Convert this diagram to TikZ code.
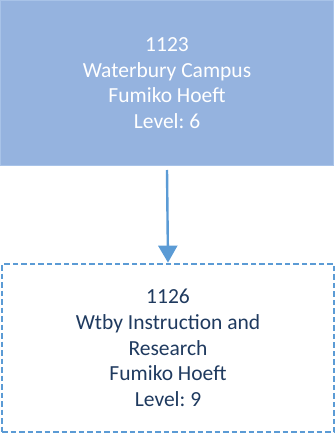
\documentclass[tikz,border=0pt]{standalone}
\usepackage{fontspec}
\setmainfont{Carlito}
\usepackage{tikz}
\usetikzlibrary{arrows.meta,positioning}

\definecolor{unitfill}{HTML}{95B3DF}
\definecolor{unitline}{HTML}{A8C3E8}
\definecolor{linkblue}{HTML}{5B9BD5}
\definecolor{subtext}{HTML}{1F3A5F}

\frenchspacing
\begin{document}
\begin{tikzpicture}[
    unit/.style={
        draw=unitline, line width=1pt, align=center,
        minimum width=333pt, minimum height=165pt,
        fill=unitfill, text=white,
        font=\fontsize{21.5pt}{25.5pt}\selectfont
    },
    subunit/.style={
        draw=linkblue, line width=2.8pt, dash pattern=on 5.5pt off 3pt,
        align=center, minimum width=332pt, minimum height=168pt,
        fill=white, text=subtext,
        font=\fontsize{21.5pt}{25.8pt}\selectfont
    },
    edge/.style={-{Triangle[width=19pt,length=17pt]}, line width=2.4pt, draw=linkblue}
]
\useasboundingbox (0,0) rectangle (336pt,-435pt);

% 1. Campus
\node[unit] (campus) at (167pt,-83pt) {1123\\Waterbury Campus\\Fumiko Hoeft\\Level: 6};

% 2. Department
\node[subunit] (wtby) at (168pt,-348pt) {1126\\Wtby Instruction and\\Research\\Fumiko Hoeft\\Level: 9};

% Link
\draw[edge] ([yshift=-4pt]campus.south) -- (wtby.north);

\end{tikzpicture}
\end{document}
